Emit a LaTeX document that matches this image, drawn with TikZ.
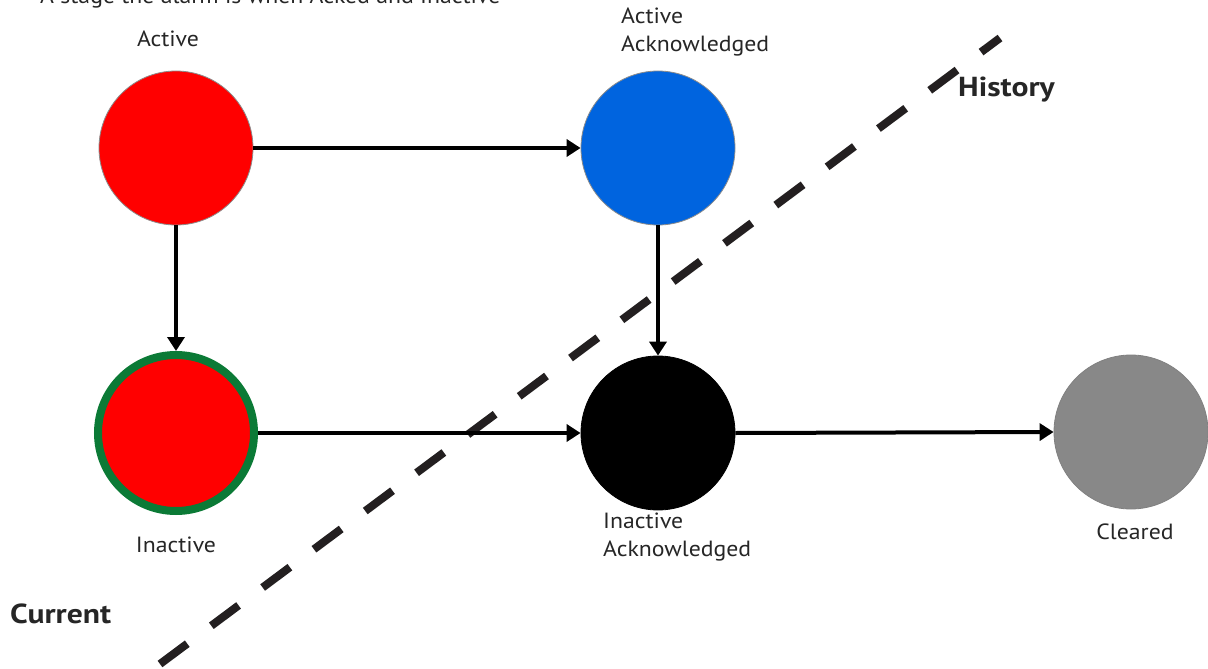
\documentclass[tikz,border=0pt]{standalone}
\usepackage{fontspec}
\setmainfont{PT Sans}[FakeStretch=1.08]
\newfontfamily\boldside{PT Sans Bold}[FakeStretch=1.15]
\usetikzlibrary{arrows.meta}
\definecolor{cred}{HTML}{FF0000}
\definecolor{cblue}{HTML}{0064DF}
\definecolor{cgreen}{HTML}{0B7A36}
\definecolor{cgray}{HTML}{888888}
\definecolor{cdash}{HTML}{231F20}
\begin{document}
\begin{tikzpicture}[x=1pt,y=-1pt,
  state/.style={circle,inner sep=0pt,minimum size=154pt,draw=black!45,line width=0.8pt},
  lbl/.style={font=\fontsize{22}{28}\selectfont,text=black!85,inner sep=0pt},
  side/.style={font=\fontsize{27.5}{30}\boldside,text=black!85,inner sep=0pt},
  flow/.style={line width=4pt,-{Triangle[length=14pt,width=17pt]}}]
\useasboundingbox (0,0) rectangle (1208,669);
\fill[white] (0,0) rectangle (1208,669);
% dashed divider
\coordinate (d1) at (160,664);
\coordinate (d2) at (1000,38);
\draw[cdash,line width=8pt,dash pattern=on 34pt off 30pt] (d1) -- (d2);
% states
\node[state,fill=cred] (act) at (176,148) {};
\node[state,fill=cblue] (ack) at (658,148) {};
\node[circle,inner sep=0pt,minimum size=156pt,draw=cgreen,line width=8pt,fill=cred] (ina) at (176,433) {};
\node[state,fill=black,draw=black] (inack) at (658,433) {};
\node[state,fill=cgray,draw=black!50] (clr) at (1131,432) {};
% arrows
\draw[flow] (act.east) -- (ack.west);
\draw[flow] (act.south) -- (ina.north);
\draw[flow] (ack.south) -- (inack.north);
\draw[flow] (ina.east) -- (inack.west);
\draw[flow] (inack.east) -- (clr.west);
% labels
\node[lbl,anchor=base west] (top) at (40,4) {A stage the alarm is when Acked and Inactive};
\node[lbl,anchor=base] (lact) at (168,47) {Active};
\node[lbl,anchor=base west,align=left] (lack) at (621,52) {Active\\Acknowledged};
\node[lbl,anchor=base] (lina) at (176,552) {Inactive};
\node[lbl,anchor=base west,align=left] (linack) at (603,556) {Inactive\\Acknowledged};
\node[lbl,anchor=base] (lclr) at (1135,539) {Cleared};
\node[side,anchor=base west] (hist) at (958,96) {History};
\node[side,anchor=base west] (cur) at (10,623) {Current};
\end{tikzpicture}
\end{document}
